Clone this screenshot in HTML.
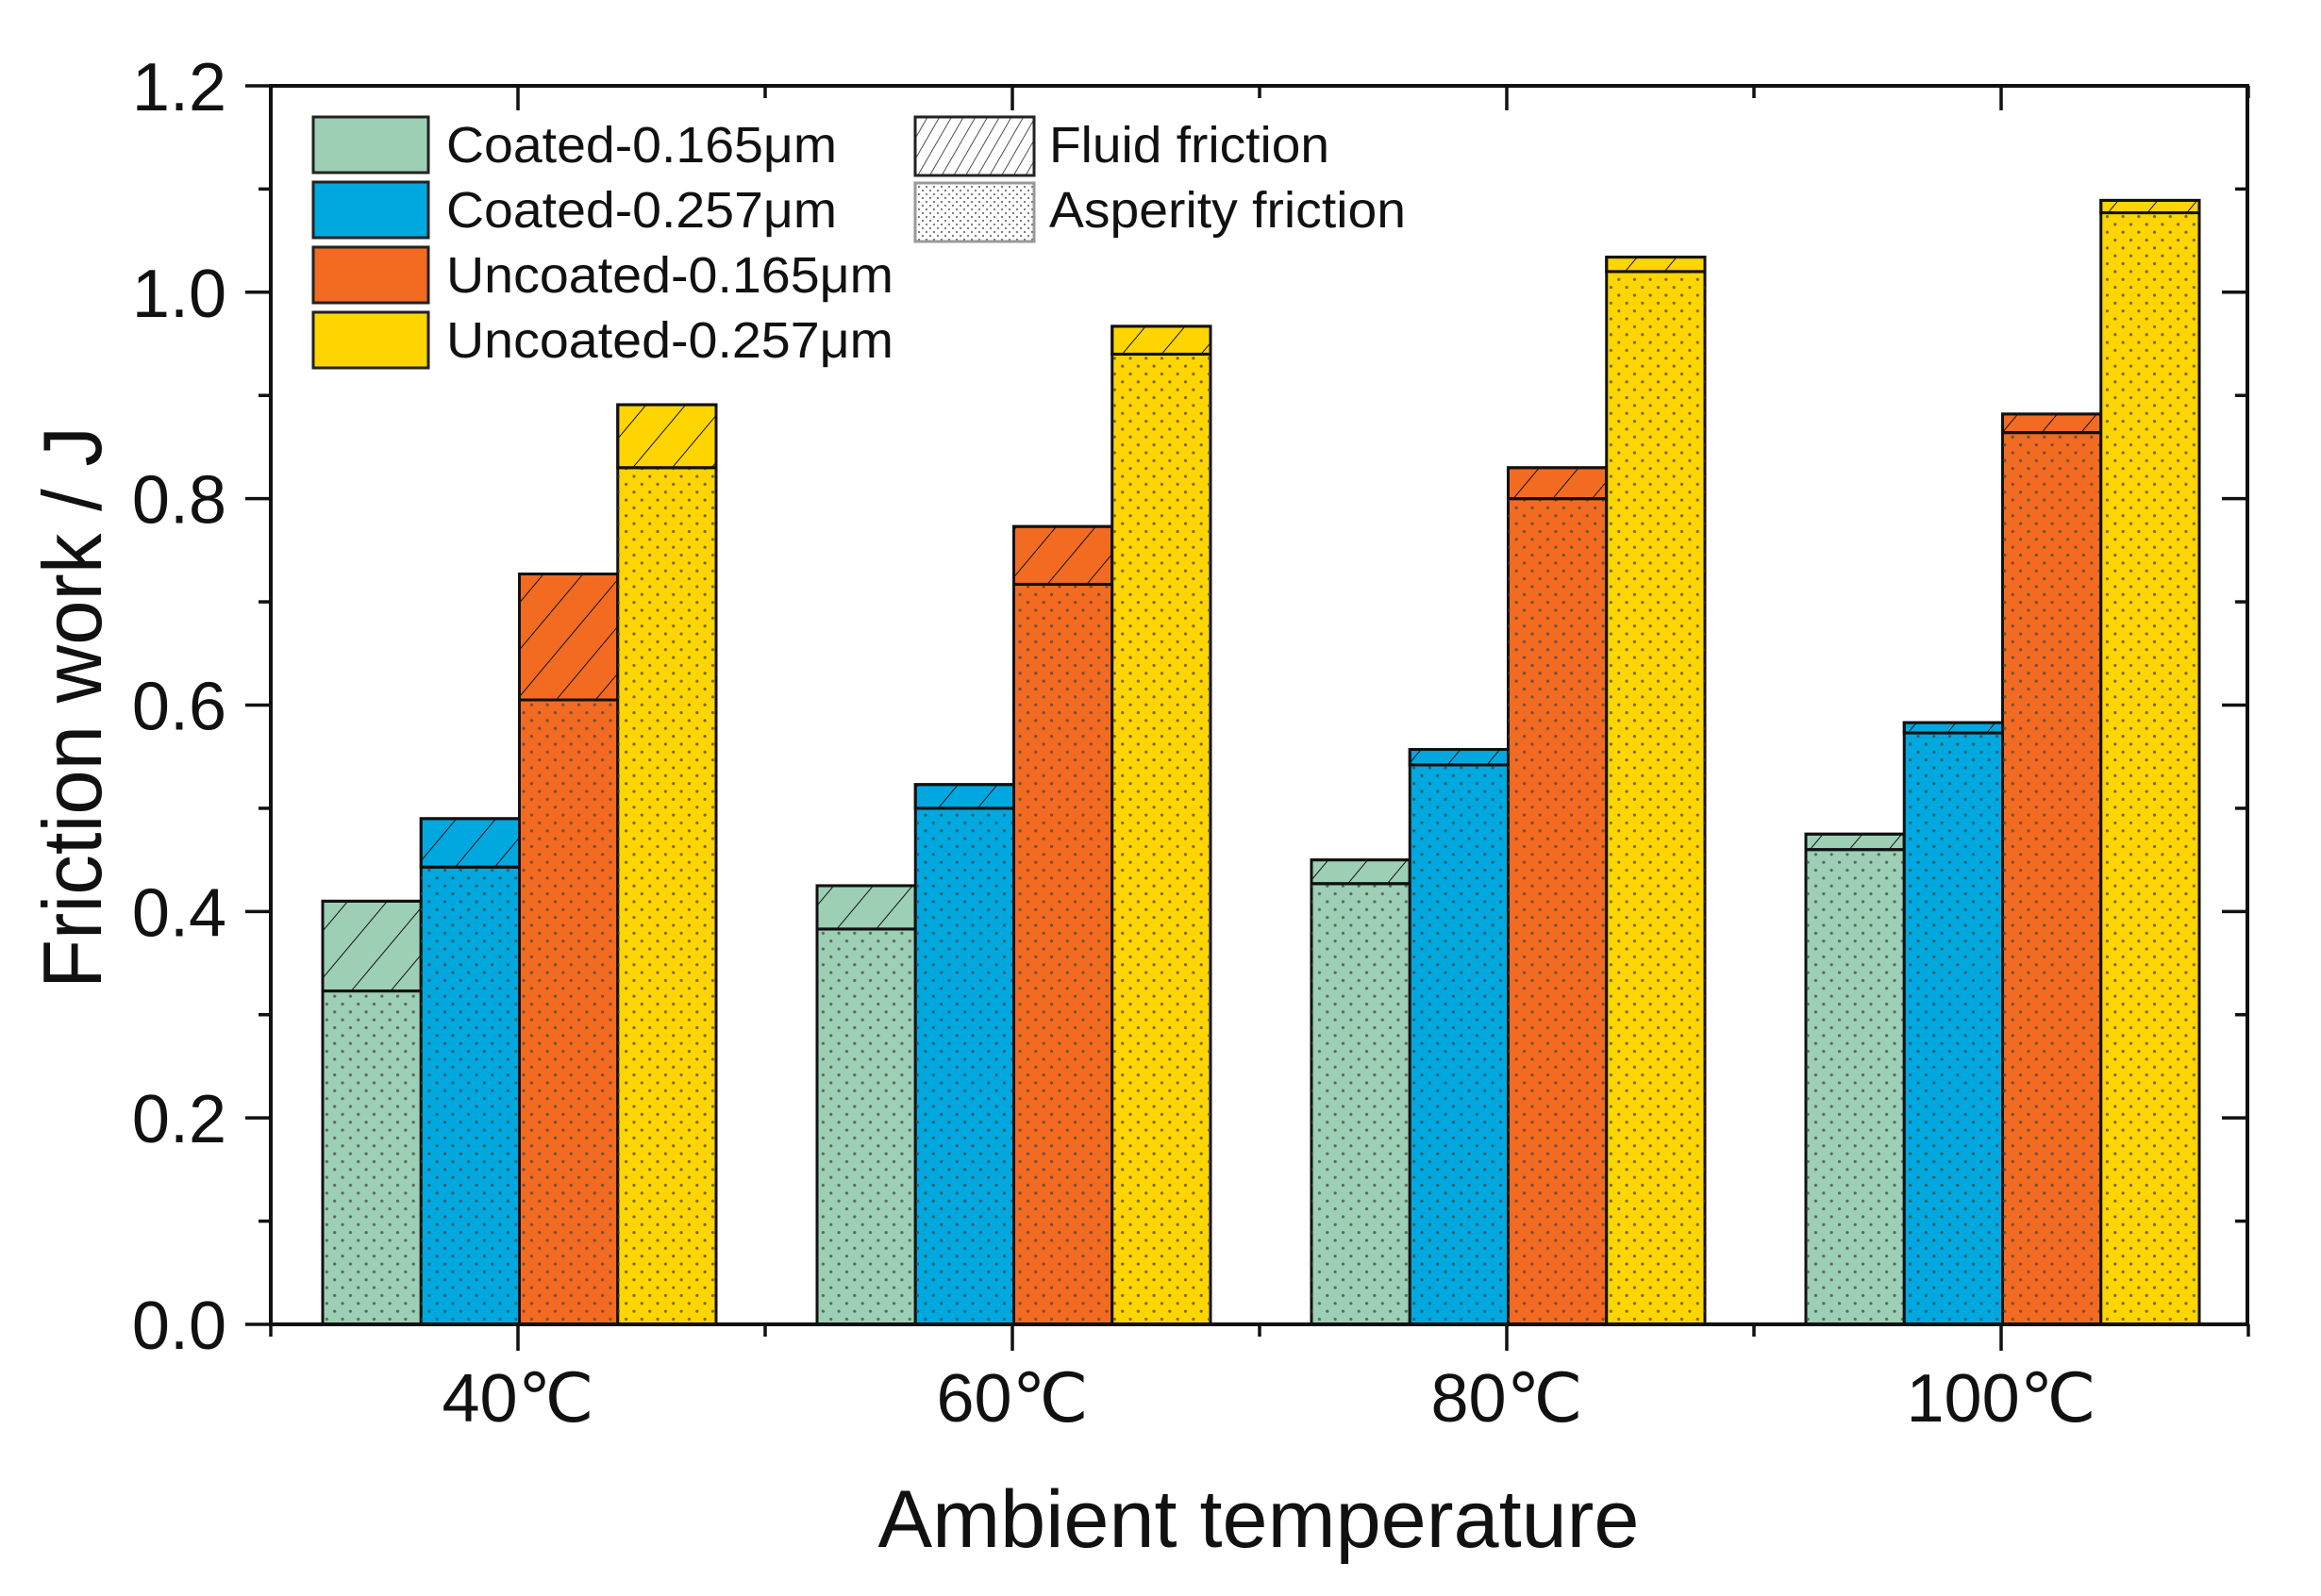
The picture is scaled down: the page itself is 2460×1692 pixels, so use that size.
<!DOCTYPE html>
<html><head><meta charset="utf-8"><style>html,body{margin:0;padding:0;background:#fff}svg{display:block}</style></head>
<body>
<svg width="2460" height="1692" viewBox="0 0 2460 1692" xmlns="http://www.w3.org/2000/svg" font-family="'Liberation Sans', 'DejaVu Sans', sans-serif">
<defs>
<pattern id="dots" width="16.7" height="16.7" patternUnits="userSpaceOnUse">
<circle cx="4" cy="4" r="1.6" fill="#444" fill-opacity="0.75"/>
<circle cx="12.35" cy="12.35" r="1.6" fill="#444" fill-opacity="0.75"/>
</pattern>
<pattern id="hatch" width="32" height="32" patternUnits="userSpaceOnUse" patternTransform="rotate(40)">
<line x1="0" y1="0" x2="0" y2="32" stroke="#111" stroke-width="2"/>
</pattern>
<pattern id="lhatch" width="11" height="11" patternUnits="userSpaceOnUse" patternTransform="rotate(30)">
<line x1="0" y1="0" x2="0" y2="11" stroke="#222" stroke-width="1.6"/>
</pattern>
<pattern id="ldots" width="8" height="8" patternUnits="userSpaceOnUse">
<circle cx="2" cy="2" r="1" fill="#555"/>
<circle cx="6" cy="6" r="1" fill="#555"/>
</pattern>
</defs>
<g id="bars" stroke="#111" stroke-width="3"></g>
<!-- axes -->
<g stroke="#111" stroke-width="4" fill="none">
<rect x="287" y="91" width="2095" height="1313"/>
</g>
<g id="ticks" stroke="#111" stroke-width="3.5"></g>
<g id="labels" font-size="72" fill="#111"></g>
<!-- legend -->
<g stroke="#222" stroke-width="3">
<rect x="332" y="124" width="122" height="59" fill="#9dcfb4"/>
<rect x="332" y="193" width="122" height="59" fill="#00a8e0"/>
<rect x="332" y="262" width="122" height="59" fill="#f26b21"/>
<rect x="332" y="331" width="122" height="59" fill="#ffd500"/>
<rect x="970" y="124" width="126" height="62" fill="url(#lhatch)"/>
<rect x="970" y="194" width="126" height="62" fill="url(#ldots)" stroke="#999"/>
</g>
<g font-size="54" fill="#111">
<text x="473" y="172" textLength="414" lengthAdjust="spacingAndGlyphs">Coated-0.165μm</text>
<text x="473" y="241" textLength="414" lengthAdjust="spacingAndGlyphs">Coated-0.257μm</text>
<text x="473" y="310" textLength="474" lengthAdjust="spacingAndGlyphs">Uncoated-0.165μm</text>
<text x="473" y="379" textLength="474" lengthAdjust="spacingAndGlyphs">Uncoated-0.257μm</text>
<text x="1112" y="172" textLength="297" lengthAdjust="spacingAndGlyphs">Fluid friction</text>
<text x="1112" y="241" textLength="378" lengthAdjust="spacingAndGlyphs">Asperity friction</text>
</g>
<text x="1334" y="1640" font-size="86" fill="#111" text-anchor="middle" textLength="807" lengthAdjust="spacingAndGlyphs">Ambient temperature</text>
<text transform="translate(107,750) rotate(-90)" font-size="88" fill="#111" text-anchor="middle" textLength="596" lengthAdjust="spacingAndGlyphs">Friction work / J</text>
<script>
(function(){
var NS="http://www.w3.org/2000/svg";
function el(p,t,a,txt){var e=document.createElementNS(NS,t);for(var k in a)e.setAttribute(k,a[k]);if(txt)e.textContent=txt;p.appendChild(e);return e;}
function Y(v){return 1404-v*1094.2;}
var cols=["#9dcfb4","#00a8e0","#f26b21","#ffd500"];
var data=[
[[0.41,0.323],[0.49,0.443],[0.727,0.605],[0.891,0.83]],
[[0.425,0.383],[0.523,0.50],[0.773,0.717],[0.967,0.94]],
[[0.45,0.427],[0.557,0.542],[0.83,0.80],[1.034,1.02]],
[[0.475,0.46],[0.583,0.573],[0.882,0.864],[1.089,1.077]]];
var centers=[549,1073,1597,2121];
var g=document.getElementById("bars");
for(var i=0;i<4;i++)for(var j=0;j<4;j++){
var x=centers[i]-207+j*104.25,w=104.25,t=data[i][j][0],a=data[i][j][1];
el(g,"rect",{x:x,y:Y(a),width:w,height:Y(0)-Y(a),fill:cols[j]});
el(g,"rect",{x:x,y:Y(a),width:w,height:Y(0)-Y(a),fill:"url(#dots)",stroke:"none"});
el(g,"rect",{x:x,y:Y(t),width:w,height:Y(a)-Y(t),fill:cols[j]});
el(g,"rect",{x:x,y:Y(t),width:w,height:Y(a)-Y(t),fill:"url(#hatch)"});
}
var tk=document.getElementById("ticks"),lb=document.getElementById("labels");
for(var k=0;k<=12;k++){var v=k/10,y=Y(v),maj=(k%2==0);
el(tk,"line",{x1:287-(maj?27:13),y1:y,x2:287,y2:y});
el(tk,"line",{x1:2382,y1:y,x2:2382-(maj?27:13),y2:y});
if(maj)el(lb,"text",{x:240,y:y+26,"text-anchor":"end"},v.toFixed(1));}
var names=["40℃","60℃","80℃","100℃"];
for(var k=0;k<=8;k++){var x=287+k*262,maj=(k%2==1);
el(tk,"line",{x1:x,y1:1404,x2:x,y2:1404+(maj?28:13)});
el(tk,"line",{x1:x,y1:91,x2:x,y2:91+(maj?26:13)});
if(maj)el(lb,"text",{x:x,y:1507,"text-anchor":"middle"},names[(k-1)/2]);}
})();
</script>
</svg>
</body></html>
